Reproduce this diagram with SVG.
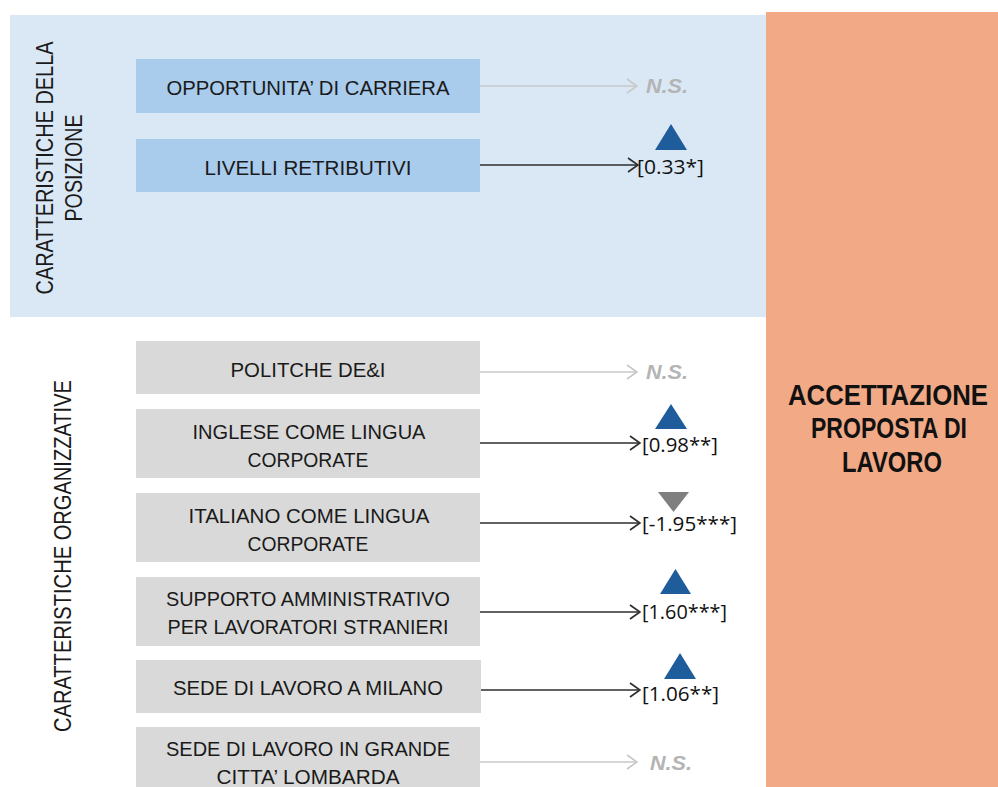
<svg xmlns="http://www.w3.org/2000/svg" width="998" height="787" viewBox="0 0 998 787">
  <style>
    .box-blue { fill: #a9cbec; }
    .box-gray { fill: #d9d9d9; }
    .lbl { font-family: "Liberation Sans", Arial, sans-serif; font-size: 21px; fill: #1a1a1a; text-anchor: middle; }
    .side { font-family: "Liberation Sans", Arial, sans-serif; font-size: 23px; fill: #1a1a1a; text-anchor: middle; }
    .target { font-family: "Liberation Sans", Arial, sans-serif; font-size: 25px; font-weight: bold; fill: #111; text-anchor: middle; }
    .coef { font-family: "Open Sans", "Liberation Sans", sans-serif; font-size: 20px; fill: #111; }
    .ns { font-family: "Liberation Sans", Arial, sans-serif; font-size: 21px; font-weight: bold; font-style: italic; fill: #b4b4b4; }
    .edge-sig { stroke: #2e2e2e; stroke-width: 1.7; fill: none; }
    .edge-ns { stroke: #c8c8c8; stroke-width: 1.6; fill: none; }
    .up { fill: #1f5c9c; }
    .down { fill: #7f7f7f; }
  </style>
  <defs>
    <marker id="chev-dark" viewBox="0 0 12 16" refX="11" refY="8" markerWidth="12" markerHeight="16" markerUnits="userSpaceOnUse" orient="auto">
      <path d="M1,1 L11,8 L1,15" fill="none" stroke="#2e2e2e" stroke-width="1.7"/>
    </marker>
    <marker id="chev-light" viewBox="0 0 12 16" refX="11" refY="8" markerWidth="12" markerHeight="16" markerUnits="userSpaceOnUse" orient="auto">
      <path d="M1,1 L11,8 L1,15" fill="none" stroke="#c8c8c8" stroke-width="1.6"/>
    </marker>
  </defs>

  <!-- background panels -->
  <rect x="0" y="0" width="998" height="787" fill="#ffffff"/>
  <rect id="panel-posizione" x="10" y="15" width="756" height="302" fill="#dae8f5"/>
  <g id="accettazione">
    <rect x="766" y="12" width="232" height="775" fill="#f2aa86"/>
    <!-- outcome title, stretched vertically to a tall condensed look -->
    <text class="target" transform="translate(888,405) scale(1,1.2)" textLength="200" lengthAdjust="spacingAndGlyphs">ACCETTAZIONE</text>
    <text class="target" transform="translate(889,438) scale(1,1.2)" textLength="156" lengthAdjust="spacingAndGlyphs">PROPOSTA DI</text>
    <text class="target" transform="translate(892,472) scale(1,1.2)" textLength="100" lengthAdjust="spacingAndGlyphs">LAVORO</text>
  </g>

  <!-- group headings -->
  <g id="heading-posizione">
    <text class="side" transform="translate(53,168) rotate(-90)" textLength="253" lengthAdjust="spacingAndGlyphs">CARATTERISTICHE DELLA</text>
    <text class="side" transform="translate(82,168) rotate(-90)" textLength="107" lengthAdjust="spacingAndGlyphs">POSIZIONE</text>
  </g>
  <g id="heading-organizzative">
    <text class="side" transform="translate(71,556) rotate(-90)" textLength="352" lengthAdjust="spacingAndGlyphs">CARATTERISTICHE ORGANIZZATIVE</text>
  </g>

  <!-- factor nodes -->
  <g id="opportunita">
    <rect class="box-blue" x="136" y="59" width="344" height="54"/>
    <text class="lbl" x="308" y="95" textLength="283" lengthAdjust="spacingAndGlyphs">OPPORTUNITA’ DI CARRIERA</text>
  </g>
  <g id="livelli">
    <rect class="box-blue" x="136" y="139" width="344" height="53"/>
    <text class="lbl" x="308" y="175" textLength="207" lengthAdjust="spacingAndGlyphs">LIVELLI RETRIBUTIVI</text>
  </g>
  <g id="politche">
    <rect class="box-gray" x="136" y="341" width="344" height="53"/>
    <text class="lbl" x="308" y="377" textLength="155" lengthAdjust="spacingAndGlyphs">POLITCHE DE&amp;I</text>
  </g>
  <g id="inglese">
    <rect class="box-gray" x="136" y="409" width="344" height="69"/>
    <text class="lbl" x="309" y="439" textLength="233" lengthAdjust="spacingAndGlyphs">INGLESE COME LINGUA</text>
    <text class="lbl" x="308" y="467" textLength="121" lengthAdjust="spacingAndGlyphs">CORPORATE</text>
  </g>
  <g id="italiano">
    <rect class="box-gray" x="136" y="493" width="344" height="69"/>
    <text class="lbl" x="309" y="523" textLength="241" lengthAdjust="spacingAndGlyphs">ITALIANO COME LINGUA</text>
    <text class="lbl" x="308" y="551" textLength="121" lengthAdjust="spacingAndGlyphs">CORPORATE</text>
  </g>
  <g id="supporto">
    <rect class="box-gray" x="136" y="577" width="344" height="69"/>
    <text class="lbl" x="308" y="606" textLength="284" lengthAdjust="spacingAndGlyphs">SUPPORTO AMMINISTRATIVO</text>
    <text class="lbl" x="308" y="634" textLength="281" lengthAdjust="spacingAndGlyphs">PER LAVORATORI STRANIERI</text>
  </g>
  <g id="sede-milano">
    <rect class="box-gray" x="136" y="660" width="345" height="53"/>
    <text class="lbl" x="308" y="695" textLength="270" lengthAdjust="spacingAndGlyphs">SEDE DI LAVORO A MILANO</text>
  </g>
  <g id="sede-lombarda">
    <rect class="box-gray" x="136" y="727" width="344" height="70"/>
    <text class="lbl" x="308" y="756" textLength="284" lengthAdjust="spacingAndGlyphs">SEDE DI LAVORO IN GRANDE</text>
    <text class="lbl" x="308" y="784" textLength="183" lengthAdjust="spacingAndGlyphs">CITTA’ LOMBARDA</text>
  </g>

  <!-- connectors -->
  <g id="connectors">
    <line class="edge-ns" x1="480" y1="86" x2="637" y2="86" marker-end="url(#chev-light)"/>
    <line class="edge-sig" x1="480" y1="165" x2="638" y2="165" marker-end="url(#chev-dark)"/>
    <line class="edge-ns" x1="480" y1="372" x2="637" y2="372" marker-end="url(#chev-light)"/>
    <line class="edge-sig" x1="480" y1="443" x2="640" y2="443" marker-end="url(#chev-dark)"/>
    <line class="edge-sig" x1="480" y1="523" x2="640" y2="523" marker-end="url(#chev-dark)"/>
    <line class="edge-sig" x1="480" y1="612" x2="640" y2="612" marker-end="url(#chev-dark)"/>
    <line class="edge-sig" x1="481" y1="690" x2="640" y2="690" marker-end="url(#chev-dark)"/>
    <line class="edge-ns" x1="480" y1="762" x2="637" y2="762" marker-end="url(#chev-light)"/>
  </g>

  <!-- effect labels -->
  <g id="effects">
    <text class="ns" x="646" y="93" textLength="42" lengthAdjust="spacingAndGlyphs">N.S.</text>
    <polygon class="up" points="655,150 671,124 687,150"/>
    <text class="coef" x="637" y="174" textLength="67" lengthAdjust="spacingAndGlyphs">[0.33*]</text>

    <text class="ns" x="646" y="379" textLength="42" lengthAdjust="spacingAndGlyphs">N.S.</text>
    <polygon class="up" points="655,429 671,404 687,429"/>
    <text class="coef" x="642" y="452" textLength="76" lengthAdjust="spacingAndGlyphs">[0.98**]</text>
    <polygon class="down" points="658,492 689,492 673.5,512"/>
    <text class="coef" x="642" y="531" textLength="95" lengthAdjust="spacingAndGlyphs">[-1.95***]</text>
    <polygon class="up" points="660,594 675.5,569 691,594"/>
    <text class="coef" x="642" y="619" textLength="85" lengthAdjust="spacingAndGlyphs">[1.60***]</text>
    <polygon class="up" points="664,679 680,653 696,679"/>
    <text class="coef" x="642" y="701" textLength="77" lengthAdjust="spacingAndGlyphs">[1.06**]</text>
    <text class="ns" x="650" y="770" textLength="42" lengthAdjust="spacingAndGlyphs">N.S.</text>
  </g>
</svg>
